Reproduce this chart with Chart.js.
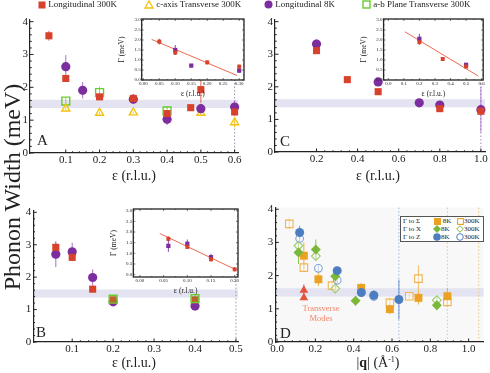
<!DOCTYPE html>
<html>
<head>
<meta charset="utf-8">
<script src="https://cdn.jsdelivr.net/npm/chart.js@4"></script>
<style>
  body { margin: 0; width: 490px; height: 373px; background: #fff; position: relative; overflow: hidden;
         font-family: "Liberation Serif", "DejaVu Serif", serif; color: #222; }
  canvas { position: absolute; }
  .t { position: absolute; white-space: nowrap; line-height: 1; }
  .lg { position: absolute; white-space: nowrap; font-size: 9px; line-height: 9px; top: 0px; }
  .lg svg, .dl svg { vertical-align: middle; }
  .dl { position: absolute; left: 400px; top: 216px; width: 82px; height: 24px; border: 1.5px solid #555;
        background: #fff; font-size: 7px; line-height: 9px; }
  .dl div { position: absolute; white-space: nowrap; }
</style>
</head>
<body>

<canvas id="chartA" width="245" height="173" style="left:0;top:0"></canvas>
<canvas id="chartC" width="245" height="172" style="left:245px;top:0"></canvas>
<canvas id="chartB" width="245" height="177" style="left:0;top:185px"></canvas>
<canvas id="chartD" width="245" height="177" style="left:245px;top:185px"></canvas>
<canvas id="insetA" width="130" height="89" style="left:118px;top:10px"></canvas>
<canvas id="insetC" width="128" height="89" style="left:360px;top:10px"></canvas>
<canvas id="insetB" width="132" height="96" style="left:110px;top:200px"></canvas>

<!-- top legend -->
<div class="lg" style="left:38px"><svg width="8" height="8"><rect x="0.5" y="0.5" width="7" height="7" fill="#D8412B"/></svg> Longitudinal 300K</div>
<div class="lg" style="left:144px"><svg width="10" height="9"><polygon points="5,1 9,8 1,8" fill="none" stroke="#F4C20D" stroke-width="1.3"/></svg> c-axis Transverse 300K</div>
<div class="lg" style="left:264px"><svg width="9" height="9"><circle cx="4.5" cy="4.5" r="4" fill="#7D2E9E"/></svg> Longitudinal 8K</div>
<div class="lg" style="left:362px"><svg width="9" height="9"><rect x="1" y="1" width="7" height="7" fill="none" stroke="#6CCB2E" stroke-width="1.4"/></svg> a-b Plane Transverse 300K</div>

<!-- big y title -->
<div class="t" style="left:12px;top:187px;font-size:24px;transform:translate(-50%,-50%) rotate(-90deg)">Phonon Width (meV)</div>

<!-- x titles -->
<div class="t" style="left:134px;top:176px;font-size:14px;transform:translate(-50%,-50%)">ε (r.l.u.)</div>
<div class="t" style="left:378px;top:176px;font-size:14px;transform:translate(-50%,-50%)">ε (r.l.u.)</div>
<div class="t" style="left:134px;top:363px;font-size:14px;transform:translate(-50%,-50%)">ε (r.l.u.)</div>
<div class="t" style="left:378px;top:363px;font-size:14px;transform:translate(-50%,-50%)">|<b>q</b>| (Å<sup style="font-size:8px">-1</sup>)</div>

<!-- panel letters -->
<div class="t" style="left:37px;top:133px;font-size:15px">A</div>
<div class="t" style="left:280px;top:134px;font-size:15px">C</div>
<div class="t" style="left:36px;top:325px;font-size:15px">B</div>
<div class="t" style="left:280px;top:326px;font-size:15px">D</div>

<!-- panel D notes -->
<div class="t" style="left:321px;top:308px;font-size:8.5px;color:#F0876A;transform:translate(-50%,-50%)">Transverse</div>
<div class="t" style="left:321px;top:318px;font-size:8.5px;color:#F0876A;transform:translate(-50%,-50%)">Modes</div>

<div class="dl">
  <div style="left:2px;top:0">Γ to Σ</div>
  <div style="left:33px;top:0"><svg width="7" height="7"><rect x="0" y="0" width="7" height="7" fill="#EBA224"/></svg> 8K</div>
  <div style="left:56px;top:0"><svg width="7" height="7"><rect x="0.6" y="0.6" width="5.8" height="5.8" fill="none" stroke="#EBA224" stroke-width="1.1"/></svg>300K</div>
  <div style="left:2px;top:8px">Γ to X</div>
  <div style="left:32px;top:8px"><svg width="8" height="8"><polygon points="4,0 8,4 4,8 0,4" fill="#7BB83A"/></svg>8K</div>
  <div style="left:55px;top:8px"><svg width="8" height="8"><polygon points="4,0.7 7.3,4 4,7.3 0.7,4" fill="none" stroke="#7BB83A" stroke-width="1"/></svg>300K</div>
  <div style="left:2px;top:16px">Γ to Z</div>
  <div style="left:32px;top:16px"><svg width="8" height="8"><circle cx="4" cy="4" r="3.8" fill="#4C7DC1"/></svg>8K</div>
  <div style="left:55px;top:16px"><svg width="8" height="8"><circle cx="4" cy="4" r="3.3" fill="none" stroke="#4C7DC1" stroke-width="1"/></svg>300K</div>
</div>

<script>
// ---------- data ----------
const band = [1.37, 1.62];

// panel A
const aL300Eps = [0.05, 0.10, 0.20, 0.30, 0.40, 0.47, 0.50, 0.60];
const aL300W   = [3.57, 2.27, 1.71, 1.66, 1.20, 1.38, 1.93, 1.25];
const aL300Err = [0.15, 0.08, 0.10, 0.10, 0.08, 0.08, 0.40, 0.10];
const aL8Eps = [0.10, 0.15, 0.30, 0.40, 0.50, 0.60];
const aL8W   = [2.63, 1.91, 1.64, 1.03, 1.35, 1.40];
const aL8Err = [0.35, 0.25, 0.15, 0.18, 0.15, 0.20];
const aCEps = [0.10, 0.20, 0.30, 0.50, 0.60];
const aCW   = [1.35, 1.22, 1.23, 1.22, 0.93];
const aCErr = [0.04, 0.03, 0.03, 0.10, 0.15];
const aABEps = [0.10, 0.20, 0.40];
const aABW   = [1.58, 1.84, 1.28];
const aABErr = [0.10, 0.18, 0.15];

// inset A
const iaRedEps = [0.05, 0.10, 0.20, 0.30];
const iaRedG   = [1.92, 1.37, 0.88, 0.67];
const iaRedErr = [0.15, 0.12, 0.10, 0.10];
const iaPurEps = [0.10, 0.15, 0.30];
const iaPurG   = [1.50, 0.72, 0.47];
const iaPurErr = [0.25, 0.08, 0.12];
const iaFitEps = [0.026, 0.294];
const iaFitG   = [2.03, 0.22];

// panel C
const cL300Eps = [0.20, 0.35, 0.50, 0.80, 1.00];
const cL300W   = [3.11, 2.22, 1.85, 1.33, 1.25];
const cL300Err = [0.05, 0.04, 0.10, 0.08, 0.08];
const cL8Eps = [0.20, 0.50, 0.70, 0.80, 1.00];
const cL8W   = [3.31, 2.15, 1.51, 1.44, 1.30];
const cL8Err = [0.15, 0.10, 0.10, 0.12, 0.70];

// inset C
const icRedEps = [0.20, 0.35, 0.50];
const icRedG   = [1.89, 1.05, 0.67];
const icRedErr = [0.12, 0.04, 0.06];
const icPurEps = [0.20, 0.50];
const icPurG   = [2.06, 0.76];
const icPurErr = [0.25, 0.08];
const icFitEps = [0.107, 0.578];
const icFitG   = [2.41, 0.20];

// panel B
const bL300Eps = [0.06, 0.10, 0.15, 0.20, 0.40];
const bL300W   = [2.92, 2.61, 1.63, 1.30, 1.30];
const bL300Err = [0.15, 0.12, 0.10, 0.05, 0.10];
const bL8Eps = [0.06, 0.10, 0.15, 0.20, 0.40];
const bL8W   = [2.71, 2.78, 1.99, 1.24, 1.11];
const bL8Err = [0.40, 0.28, 0.25, 0.10, 0.15];
const bABEps = [0.20, 0.40];
const bABW   = [1.32, 1.34];
const bABErr = [0.05, 0.15];

// inset B
const ibRedEps = [0.06, 0.10, 0.15, 0.20];
const ibRedG   = [1.68, 1.30, 0.72, 0.25];
const ibRedErr = [0.12, 0.08, 0.10, 0.10];
const ibPurEps = [0.06, 0.10, 0.15];
const ibPurG   = [1.35, 1.45, 0.82];
const ibPurErr = [0.28, 0.20, 0.15];
const ibFitEps = [0.042, 0.198];
const ibFitG   = [1.93, 0.28];

// panel D
const dS8Q   = [0.140, 0.216, 0.439, 0.589, 0.738, 0.889];
const dS8W   = [2.60, 1.89, 1.63, 0.99, 1.33, 1.38];
const dS8Err = [0.40, 0.20, 0.15, 0.15, 0.20, 0.25];
const dS300Q   = [0.064, 0.140, 0.287, 0.589, 0.690, 0.738, 0.889];
const dS300W   = [3.56, 2.24, 1.70, 1.18, 1.38, 1.91, 1.21];
const dS300Err = [0.15, 0.12, 0.10, 0.15, 0.08, 0.40, 0.10];
const dX8Q   = [0.112, 0.2025, 0.304, 0.410, 0.834];
const dX8W   = [2.70, 2.79, 1.98, 1.24, 1.11];
const dX8Err = [0.35, 0.30, 0.25, 0.15, 0.15];
const dX300Q   = [0.112, 0.2025, 0.304, 0.834];
const dX300W   = [2.90, 2.59, 1.61, 1.26];
const dX300Err = [0.10, 0.10, 0.10, 0.10];
const dZ8Q   = [0.118, 0.314, 0.440, 0.505, 0.636];
const dZ8W   = [3.30, 2.15, 1.49, 1.41, 1.28];
const dZ8Err = [0.20, 0.10, 0.08, 0.15, 0.60];
const dZ300Q   = [0.118, 0.216, 0.314, 0.505];
const dZ300W   = [3.12, 2.22, 1.86, 1.37];
const dZ300Err = [0.08, 0.08, 0.08, 0.10];
const dTrQ   = [0.14, 0.14];
const dTrW   = [1.56, 1.33];
const dTrErr = [0.18, 0.05];

// ticks
const widthTicks = [0, 1, 2, 3, 4];
const gammaTicks = [0, 0.5, 1.0, 1.5, 2.0, 2.5, 3.0];

// ---------- look ----------
const F = '"Liberation Serif", "DejaVu Serif", serif';
const RED = '#D8412B', PURPLE = '#7D2E9E', YELLOW = '#F4C20D', LGREEN = '#6CCB2E';
const ORANGE = '#EBA224', GREEN = '#7BB83A', BLUE = '#4C7DC1', TRANS = '#E4523A';

// error bars, drawn from the data through the y scale
const errorBars = {
  id: 'errorBars',
  beforeDatasetsDraw(chart) {
    const { ctx, scales: { y } } = chart;
    chart.data.datasets.forEach((d, i) => {
      if (!d.err) return;
      const meta = chart.getDatasetMeta(i);
      ctx.save();
      ctx.strokeStyle = d.errColor || d.pointBorderColor;
      ctx.lineWidth = d.errWidth || 1;
      meta.data.forEach((p, j) => {
        const e = d.err[j];
        if (!e) return;
        const v = d.data[j].y;
        ctx.beginPath();
        ctx.moveTo(p.x, y.getPixelForValue(v + e));
        ctx.lineTo(p.x, y.getPixelForValue(v - e));
        ctx.stroke();
      });
      ctx.restore();
    });
  }
};

// background, shaded band, dotted guides, inward ticks, frame
const deco = {
  id: 'deco',
  beforeDraw(chart, args, o) {
    const { ctx, chartArea: a, scales: { x, y } } = chart;
    ctx.save();
    if (o.bg) { ctx.fillStyle = o.bg; ctx.fillRect(a.left, a.top, a.width, a.height); }
    if (o.band) {
      const t = y.getPixelForValue(o.band[1]), b = y.getPixelForValue(o.band[0]);
      ctx.fillStyle = '#E3E3F1';
      ctx.fillRect(a.left, t, a.width, b - t);
    }
    (o.vlines || []).forEach(v => {
      const px = x.getPixelForValue(v.at);
      ctx.strokeStyle = v.color; ctx.lineWidth = 1; ctx.setLineDash([1.5, 2]);
      ctx.beginPath(); ctx.moveTo(px, a.top); ctx.lineTo(px, a.bottom); ctx.stroke();
    });
    ctx.restore();
  },
  afterDatasetsDraw(chart, args, o) {
    const { ctx, chartArea: a, scales: { x, y } } = chart;
    const L = o.tick || 3;
    ctx.save();
    ctx.strokeStyle = '#222'; ctx.lineWidth = o.lw || 1;
    ctx.beginPath();
    const xt = x.ticks.map(t => t.value), yt = y.ticks.map(t => t.value);
    const minor = (vals, n) => {
      const out = [];
      for (let i = 0; i < vals.length - 1; i++)
        for (let k = 1; k < n; k++) out.push(vals[i] + (vals[i + 1] - vals[i]) * k / n);
      return out;
    };
    const vt = (vals, len) => vals.forEach(v => {
      const px = x.getPixelForValue(v);
      if (px < a.left - 0.5 || px > a.right + 0.5) return;
      ctx.moveTo(px, a.bottom); ctx.lineTo(px, a.bottom - len);
      if (o.box) { ctx.moveTo(px, a.top); ctx.lineTo(px, a.top + len); }
    });
    const ht = (vals, len) => vals.forEach(v => {
      const py = y.getPixelForValue(v);
      if (py < a.top - 0.5 || py > a.bottom + 0.5) return;
      ctx.moveTo(a.left, py); ctx.lineTo(a.left + len, py);
      if (o.box) { ctx.moveTo(a.right, py); ctx.lineTo(a.right - len, py); }
    });
    vt(xt, L); ht(yt, L);
    vt(minor(xt, o.xMinor || 5), L / 2); ht(minor(yt, o.yMinor || 5), L / 2);
    ctx.stroke();
    if (o.box) { ctx.lineWidth = o.boxW || 1.3; ctx.strokeRect(a.left, a.top, a.width, a.height); }
    ctx.restore();
  }
};
Chart.register(errorBars, deco);

function pts(xs, ys) { return xs.map((x, i) => ({ x, y: ys[i] })); }

function series(xs, ys, err, style, size, fill, stroke, bw, errColor) {
  return {
    data: pts(xs, ys), err, errColor,
    pointStyle: style, pointRadius: size,
    pointBackgroundColor: fill, pointBorderColor: stroke, pointBorderWidth: bw,
    showLine: false, clip: false
  };
}

function fit(xs, ys) {
  return { data: pts(xs, ys), showLine: true, borderColor: '#EC6A52', borderWidth: 1,
           pointRadius: 0, clip: false };
}

function axes(o) {
  const mk = horiz => {
    const p = horiz ? o.x : o.y;
    return {
      type: 'linear', min: p.min, max: p.max,
      afterBuildTicks: s => { s.ticks = p.ticks.map(v => ({ value: v })); },
      afterFit: s => {
        if (horiz) { s.height = p.size; s.paddingLeft = 0; s.paddingRight = 0; }
        else { s.width = p.size; s.paddingTop = 0; s.paddingBottom = 0; }
      },
      grid: { drawOnChartArea: false, drawTicks: false },
      border: { display: !o.box, color: '#222', width: 1.2 },
      ticks: { autoSkip: false, maxRotation: 0, padding: p.pad, color: '#222',
               font: { family: F, size: o.fs }, callback: v => p.fmt(v) },
      title: p.title
        ? { display: true, text: p.title, padding: 0, color: '#222', font: { family: F, size: o.ts } }
        : { display: false }
    };
  };
  return { x: mk(true), y: mk(false) };
}

function draw(id, datasets, scales, decoOpts, pad) {
  return new Chart(document.getElementById(id), {
    type: 'scatter',
    data: { datasets },
    options: {
      responsive: false, animation: false, events: [],
      layout: { padding: pad },
      plugins: { legend: { display: false }, tooltip: { enabled: false }, deco: decoOpts },
      scales
    }
  });
}

const f1 = v => v.toFixed(1), f2 = v => v.toFixed(2), f0 = v => String(v);
const mainY = (size) => ({ min: 0, max: 4.05, ticks: widthTicks, size, pad: 2, fmt: f0 });

// ---------- panel A ----------
draw('chartA', [
  series(aL300Eps, aL300W, aL300Err, 'rect', 5, RED, RED, 0, 'rgba(216,65,43,0.8)'),
  series(aL8Eps, aL8W, aL8Err, 'circle', 4.6, PURPLE, PURPLE, 0, 'rgba(150,90,190,0.85)'),
  series(aCEps, aCW, aCErr, 'triangle', 4.6, 'rgba(255,255,255,0)', YELLOW, 1.4, 'rgba(244,194,13,0.8)'),
  series(aABEps, aABW, aABErr, 'rect', 5.6, 'rgba(255,255,255,0)', LGREEN, 1.4, 'rgba(108,203,46,0.8)')
], axes({ fs: 11,
  x: { min: -0.006, max: 0.61, ticks: [0.1, 0.2, 0.3, 0.4, 0.5, 0.6], size: 20, pad: 1, fmt: f1 },
  y: mainY(30) }),
  { band, vlines: [{ at: 0.6, color: '#9C90AE' }], tick: 3.5, yMinor: 5, xMinor: 5 },
  { top: 20, right: 1.3, left: 0, bottom: 0 });

// ---------- panel C ----------
draw('chartC', [
  series(cL300Eps, cL300W, cL300Err, 'rect', 5, RED, RED, 0, 'rgba(216,65,43,0.8)'),
  series(cL8Eps, cL8W, cL8Err, 'circle', 4.6, PURPLE, PURPLE, 0, 'rgba(160,100,200,0.8)')
], axes({ fs: 11,
  x: { min: -0.002, max: 1.02, ticks: [0.2, 0.4, 0.6, 0.8, 1.0], size: 20, pad: 1, fmt: f1 },
  y: mainY(30) }),
  { band, vlines: [{ at: 1.0, color: '#A884C4' }], tick: 3.5 },
  { top: 20, right: 3.6, left: 0, bottom: 0 });

// ---------- panel B ----------
draw('chartB', [
  series(bABEps, bABW, bABErr, 'rect', 5.6, 'rgba(108,203,46,0.25)', LGREEN, 1.4, 'rgba(90,190,220,0.8)'),
  series(bL300Eps, bL300W, bL300Err, 'rect', 5, RED, RED, 0, 'rgba(216,65,43,0.8)'),
  series(bL8Eps, bL8W, bL8Err, 'circle', 4.6, PURPLE, PURPLE, 0, 'rgba(150,90,190,0.85)')
], axes({ fs: 11,
  x: { min: 0.005, max: 0.505, ticks: [0.1, 0.2, 0.3, 0.4, 0.5], size: 20, pad: 1, fmt: f1 },
  y: mainY(33.3) }),
  { band, vlines: [{ at: 0.5, color: '#9C90AE' }], tick: 3.5 },
  { top: 25.7, right: 2.2, left: 0, bottom: 0 });

// ---------- panel D ----------
draw('chartD', [
  series(dTrQ, dTrW, dTrErr, 'triangle', 5, TRANS, TRANS, 0, 'rgba(228,82,58,0.8)'),
  series(dZ8Q, dZ8W, dZ8Err, 'circle', 4.5, BLUE, BLUE, 0, 'rgba(76,125,193,0.8)'),
  series(dX8Q, dX8W, dX8Err, 'rectRot', 5, GREEN, GREEN, 0, 'rgba(123,184,58,0.85)'),
  series(dS8Q, dS8W, dS8Err, 'rect', 5.6, ORANGE, ORANGE, 0, 'rgba(235,162,36,0.85)'),
  series(dZ300Q, dZ300W, dZ300Err, 'circle', 3.8, 'rgba(255,255,255,0.4)', '#7EA2D6', 1.1, 'rgba(126,162,214,0.8)'),
  series(dX300Q, dX300W, dX300Err, 'rectRot', 4.4, 'rgba(255,255,255,0.4)', '#9CCB66', 1.1, 'rgba(156,203,102,0.8)'),
  series(dS300Q, dS300W, dS300Err, 'rect', 5.3, 'rgba(255,255,255,0.4)', '#F0B450', 1.1, 'rgba(240,180,80,0.85)')
], axes({ fs: 11,
  x: { min: -0.009, max: 1.078, ticks: [0, 0.2, 0.4, 0.6, 0.8, 1.0], size: 20, pad: 1, fmt: f1 },
  y: mainY(30.3) }),
  { bg: '#F8F8F8', band,
    vlines: [{ at: 0.636, color: '#9DB8E2' }, { at: 0.889, color: '#F2C67A' }, { at: 1.053, color: '#F2C67A' }],
    tick: 3.5 },
  { top: 22.6, right: 0, left: 0, bottom: 0 });

// ---------- insets ----------
const insetSet = (redX, redY, redE, purX, purY, purE, fitX, fitY) => [
  series(redX, redY, redE, 'rect', 2.8, RED, RED, 0, 'rgba(216,65,43,0.9)'),
  series(purX, purY, purE, 'rect', 3, PURPLE, PURPLE, 0, 'rgba(125,46,158,0.9)'),
  fit(fitX, fitY)
];
const gammaY = (min, max, size) => ({ min, max, ticks: gammaTicks, size, pad: 1, fmt: f1, title: 'Γ (meV)' });
const insetDeco = { bg: '#fff', box: true, tick: 2, lw: 0.6, boxW: 1.3, xMinor: 2, yMinor: 2 };

draw('insetA', insetSet(iaRedEps, iaRedG, iaRedErr, iaPurEps, iaPurG, iaPurErr, iaFitEps, iaFitG),
  axes({ box: true, fs: 5, ts: 7.5,
    x: { min: -0.005, max: 0.315, ticks: [0, 0.05, 0.10, 0.15, 0.20, 0.25, 0.30], size: 19, pad: 1, fmt: f2, title: 'ε (r.l.u.)' },
    y: gammaY(0, 3.05, 23.7) }),
  insetDeco, { top: 9, right: 3.9, left: 0, bottom: 0 });

draw('insetC', insetSet(icRedEps, icRedG, icRedErr, icPurEps, icPurG, icPurErr, icFitEps, icFitG),
  axes({ box: true, fs: 5, ts: 7.5,
    x: { min: -0.03, max: 0.61, ticks: [0, 0.1, 0.2, 0.3, 0.4, 0.5, 0.6], size: 19, pad: 1, fmt: f1, title: 'ε (r.l.u.)' },
    y: gammaY(0, 3.05, 23.6) }),
  insetDeco, { top: 9, right: 4.8, left: 0, bottom: 0 });

draw('insetB', insetSet(ibRedEps, ibRedG, ibRedErr, ibPurEps, ibPurG, ibPurErr, ibFitEps, ibFitG),
  axes({ box: true, fs: 5, ts: 7.5,
    x: { min: -0.014, max: 0.207, ticks: [0, 0.05, 0.10, 0.15, 0.20], size: 19, pad: 1, fmt: f2, title: 'ε (r.l.u.)' },
    y: gammaY(-0.11, 3.08, 23.3) }),
  insetDeco, { top: 9, right: 2.6, left: 0, bottom: 0 });
</script>
</body>
</html>
